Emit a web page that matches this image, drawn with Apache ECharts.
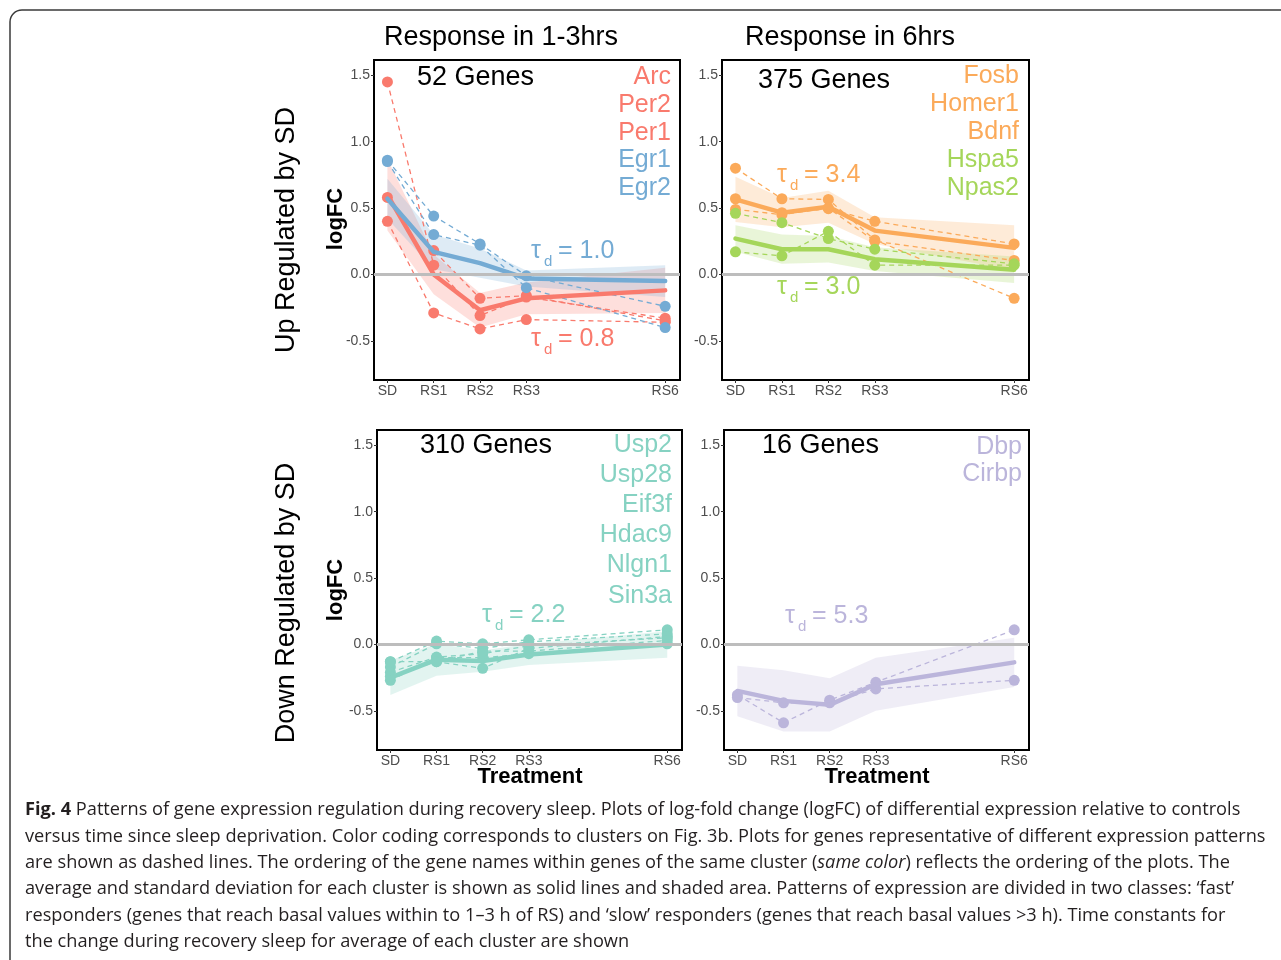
<!DOCTYPE html>
<html>
<head>
<meta charset="utf-8">
<title>Fig. 4</title>
<script src="https://cdn.jsdelivr.net/npm/echarts@6.0.0/dist/echarts.min.js"></script>
<style>
  html, body { margin: 0; padding: 0; background: #fff; }
  #main { width: 1281px; height: 960px; }
</style>
</head>
<body>
<div id="main"></div>
<script>
// time since sleep deprivation (h) and the tick labels
const times = [0, 1, 2, 3, 6]
const timeLabels = ['SD', 'RS1', 'RS2', 'RS3', 'RS6']
const yTicks = [-0.5, 0, 0.5, 1.0, 1.5]

// up regulated, fast responders
const arc = [1.45, 0.07, -0.31, -0.17, -0.33]
const per2 = [0.58, 0.18, -0.18, -0.16, -0.35]
const per1 = [0.40, -0.29, -0.41, -0.34, -0.36]
const egr1 = [0.86, 0.44, 0.23, -0.01, -0.24]
const egr2 = [0.85, 0.30, 0.22, -0.10, -0.40]
const redMean = [0.60, 0.00, -0.27, -0.18, -0.12]
const redSd = [0.27, 0.15, 0.13, 0.12, 0.17]
const blueMean = [0.57, 0.17, 0.085, -0.03, -0.05]
const blueSd = [0.15, 0.13, 0.11, 0.06, 0.12]

// up regulated, slow responders
const fosb = [0.80, 0.57, 0.565, 0.26, -0.18]
const homer1 = [0.57, 0.465, 0.495, 0.40, 0.23]
const bdnf = [0.49, 0.45, 0.50, 0.25, 0.105]
const hspa5 = [0.46, 0.39, 0.27, 0.19, 0.08]
const npas2 = [0.17, 0.14, 0.325, 0.07, 0.07]
const orangeMean = [0.565, 0.465, 0.51, 0.33, 0.20]
const orangeSd = [0.17, 0.11, 0.12, 0.10, 0.17]
const greenMean = [0.27, 0.19, 0.19, 0.115, 0.035]
const greenSd = [0.10, 0.11, 0.10, 0.09, 0.10]

// down regulated, fast responders
const usp2 = [-0.13, 0.025, 0.005, 0.035, 0.11]
const usp28 = [-0.17, 0.005, -0.03, 0.02, 0.08]
const eif3f = [-0.21, -0.095, -0.07, -0.01, 0.05]
const hdac9 = [-0.13, -0.13, -0.18, -0.03, 0.06]
const nlgn1 = [-0.27, -0.10, -0.10, -0.07, 0.005]
const sin3a = [-0.24, -0.13, -0.05, -0.05, 0.03]
const tealMean = [-0.25, -0.115, -0.125, -0.075, 0.0]
const tealSd = [0.13, 0.12, 0.08, 0.08, 0.10]

// down regulated, slow responders
const dbp = [-0.38, -0.59, -0.42, -0.285, 0.11]
const cirbp = [-0.40, -0.44, -0.44, -0.335, -0.27]
const purpleMean = [-0.35, -0.425, -0.455, -0.30, -0.135]
const purpleSd = [0.19, 0.23, 0.20, 0.20, 0.185]

const RED = '#f97a6d'
const BLUE = '#74abd4'
const ORANGE = '#fbaa5a'
const GREEN = '#a5d65a'
const TEAL = '#86d2c2'
const PURPLE = '#bbb5db'

const panels = [
  { groups: [
    { color: RED, mean: redMean, sd: redSd, genes: [arc, per2, per1] },
    { color: BLUE, mean: blueMean, sd: blueSd, genes: [egr1, egr2] }
  ] },
  { groups: [
    { color: ORANGE, mean: orangeMean, sd: orangeSd, genes: [fosb, homer1, bdnf] },
    { color: GREEN, mean: greenMean, sd: greenSd, genes: [hspa5, npas2] }
  ] },
  { groups: [
    { color: TEAL, mean: tealMean, sd: tealSd, genes: [usp2, usp28, eif3f, hdac9, nlgn1, sin3a] }
  ] },
  { groups: [
    { color: PURPLE, mean: purpleMean, sd: purpleSd, genes: [dbp, cirbp] }
  ] }
]

const grids = [
  { left: 374, top: 60, width: 306, height: 320 },
  { left: 722, top: 60, width: 307, height: 320 },
  { left: 377, top: 430, width: 305, height: 320 },
  { left: 724, top: 430, width: 305, height: 320 }
]

const FONT = '"Liberation Sans", Arial, Helvetica, sans-serif'
const toPairs = arr => times.map((t, k) => [t, arr[k]])

const series = []
panels.forEach((p, i) => {
  // shaded sd bands
  p.groups.forEach(g => {
    series.push({
      type: 'custom',
      xAxisIndex: i,
      yAxisIndex: i,
      silent: true,
      z: 1,
      data: [[times[0], g.mean[0]]],
      renderItem: (params, api) => {
        const pts = []
        times.forEach((t, k) => pts.push(api.coord([t, g.mean[k] + g.sd[k]])))
        for (let k = times.length - 1; k >= 0; k--) {
          pts.push(api.coord([times[k], g.mean[k] - g.sd[k]]))
        }
        return { type: 'polygon', shape: { points: pts }, style: { fill: g.color, opacity: 0.24 } }
      }
    })
  })
  // zero line
  series.push({
    type: 'line',
    xAxisIndex: i,
    yAxisIndex: i,
    data: [],
    z: 2,
    markLine: {
      silent: true,
      symbol: 'none',
      label: { show: false },
      lineStyle: { color: '#bdbdbd', width: 3, type: 'solid' },
      data: [{ yAxis: 0 }]
    }
  })
  // single genes, dashed
  p.groups.forEach(g => {
    g.genes.forEach(gene => {
      series.push({
        type: 'line',
        xAxisIndex: i,
        yAxisIndex: i,
        z: 3,
        data: toPairs(gene),
        symbol: 'circle',
        symbolSize: 11,
        itemStyle: { color: g.color },
        lineStyle: { color: g.color, width: 1.3, type: [5, 4] }
      })
    })
  })
  // cluster average
  p.groups.forEach(g => {
    series.push({
      type: 'line',
      xAxisIndex: i,
      yAxisIndex: i,
      z: 4,
      data: toPairs(g.mean),
      symbol: 'none',
      lineStyle: { color: g.color, width: 4.5, cap: 'round', join: 'round' }
    })
  })
})

const xAxes = grids.map((g, i) => ({
  gridIndex: i,
  type: 'value',
  position: 'bottom',
  min: -0.29,
  max: 6.32,
  axisLine: { show: false, onZero: false },
  splitLine: { show: false },
  axisTick: { show: true, customValues: times, length: 3, lineStyle: { color: '#333' } },
  axisLabel: {
    customValues: times,
    formatter: v => timeLabels[times.indexOf(v)],
    color: '#4d4d4d',
    fontSize: 14,
    fontFamily: FONT,
    margin: 4
  }
}))

const yAxes = grids.map((g, i) => ({
  gridIndex: i,
  type: 'value',
  position: 'left',
  min: -0.795,
  max: 1.615,
  axisLine: { show: false, onZero: false },
  splitLine: { show: false },
  axisTick: { show: true, customValues: yTicks, length: 3, lineStyle: { color: '#333' } },
  axisLabel: {
    customValues: yTicks,
    formatter: v => v.toFixed(1),
    color: '#4d4d4d',
    fontSize: 14,
    fontFamily: FONT,
    margin: 4
  }
}))

function txt(x, y, text, color, size, opts) {
  opts = opts || {}
  return {
    type: 'text',
    x: x,
    y: y,
    rotation: opts.rotation || 0,
    z: 100,
    style: {
      text: text,
      fill: color,
      fontSize: size,
      fontFamily: FONT,
      fontWeight: opts.bold ? 'bold' : 'normal',
      align: opts.align || 'left',
      verticalAlign: 'middle'
    }
  }
}

// tau_d = value, with a subscript d
function tau(x, y, value, color) {
  return [
    txt(x, y, 'τ', color, 25),
    txt(x + 13, y + 11, 'd', color, 15),
    txt(x + 27, y, '= ' + value, color, 25)
  ]
}

function names(x, ys, list, color) {
  return list.map((n, k) => txt(x, ys[k], n, color, 25, { align: 'right' }))
}

const captionLines = [
  '{b|Fig. 4} Patterns of gene expression regulation during recovery sleep. Plots of log-fold change (logFC) of differential expression relative to controls',
  'versus time since sleep deprivation. Color coding corresponds to clusters on Fig. 3b. Plots for genes representative of different expression patterns',
  'are shown as dashed lines. The ordering of the gene names within genes of the same cluster ({i|same color}) reflects the ordering of the plots. The',
  'average and standard deviation for each cluster is shown as solid lines and shaded area. Patterns of expression are divided in two classes: ‘fast’',
  'responders (genes that reach basal values within to 1–3 h of RS) and ‘slow’ responders (genes that reach basal values >3 h). Time constants for',
  'the change during recovery sleep for average of each cluster are shown'
]
const CAP_FONT = '"Open Sans", "Noto Sans", sans-serif'
const CAP_SIZE = 18.2

const caption = captionLines.map((line, k) => ({
  type: 'text',
  x: 25,
  y: 810 + k * 26.4,
  style: {
    text: line,
    fill: '#231f20',
    fontSize: CAP_SIZE,
    fontFamily: CAP_FONT,
    verticalAlign: 'middle',
    rich: {
      b: { fontSize: CAP_SIZE, fontFamily: CAP_FONT, fontWeight: 'bold', fill: '#231f20' },
      i: { fontSize: CAP_SIZE, fontFamily: CAP_FONT, fontStyle: 'italic', fill: '#231f20' }
    }
  }
}))

const graphics = [
  { type: 'rect', shape: { x: 10, y: 10, width: 1300, height: 1000, r: 12 }, style: { fill: 'none', stroke: '#3a3a3a', lineWidth: 1.5 } },
  txt(501, 38, 'Response in 1-3hrs', '#000', 27, { align: 'center' }),
  txt(850, 38, 'Response in 6hrs', '#000', 27, { align: 'center' }),
  txt(287, 230, 'Up Regulated by SD', '#000', 27, { align: 'center', rotation: Math.PI / 2 }),
  txt(287, 603, 'Down Regulated by SD', '#000', 27, { align: 'center', rotation: Math.PI / 2 }),
  txt(336, 219, 'logFC', '#000', 22, { align: 'center', rotation: Math.PI / 2, bold: true }),
  txt(336, 590, 'logFC', '#000', 22, { align: 'center', rotation: Math.PI / 2, bold: true }),
  txt(530, 777, 'Treatment', '#000', 22, { align: 'center', bold: true }),
  txt(877, 777, 'Treatment', '#000', 22, { align: 'center', bold: true }),
  txt(417, 78, '52 Genes', '#000', 27),
  txt(758, 81, '375 Genes', '#000', 27),
  txt(420, 446, '310 Genes', '#000', 27),
  txt(762, 446, '16 Genes', '#000', 27)
]
  .concat(names(671, [77, 105, 133], ['Arc', 'Per2', 'Per1'], RED))
  .concat(names(671, [160, 188], ['Egr1', 'Egr2'], BLUE))
  .concat(names(1019, [76, 104, 132], ['Fosb', 'Homer1', 'Bdnf'], ORANGE))
  .concat(names(1019, [160, 188], ['Hspa5', 'Npas2'], GREEN))
  .concat(names(672, [445, 475, 505, 535, 565, 596], ['Usp2', 'Usp28', 'Eif3f', 'Hdac9', 'Nlgn1', 'Sin3a'], TEAL))
  .concat(names(1022, [447, 474], ['Dbp', 'Cirbp'], PURPLE))
  .concat(tau(531, 251, '1.0', BLUE))
  .concat(tau(531, 339, '0.8', RED))
  .concat(tau(777, 175, '3.4', ORANGE))
  .concat(tau(777, 287, '3.0', GREEN))
  .concat(tau(482, 615, '2.2', TEAL))
  .concat(tau(785, 616, '5.3', PURPLE))
  .concat(caption)

const chart = echarts.init(document.getElementById('main'))
chart.setOption({
  animation: false,
  backgroundColor: '#fff',
  grid: grids.map(g => Object.assign({ show: true, borderColor: '#000', borderWidth: 2, backgroundColor: 'transparent' }, g)),
  xAxis: xAxes,
  yAxis: yAxes,
  series: series,
  graphic: graphics
})
</script>
</body>
</html>
